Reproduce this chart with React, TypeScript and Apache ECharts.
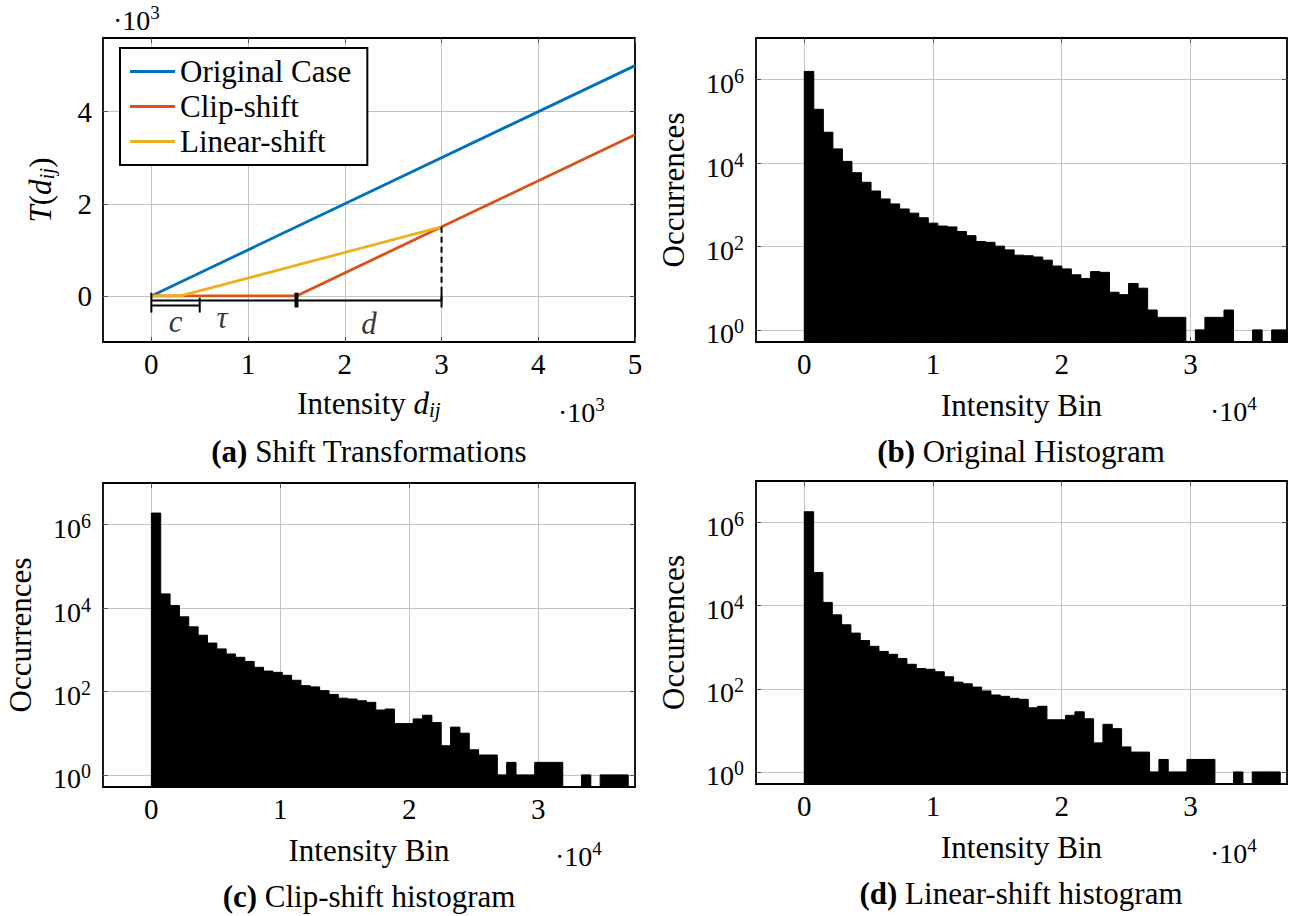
import React, { useEffect, useRef } from 'react';
import * as echarts from 'echarts';

const FONT = "'Liberation Serif', 'Times New Roman', serif";

// ---------- Panel (a): shift transformations ----------
const A_X_TICKS = [0, 1000, 2000, 3000, 4000, 5000];
const A_Y_TICKS = [0, 2000, 4000];
const ORIGINAL_CASE = [[0, 0], [5000, 5000]];
const CLIP_SHIFT = [[0, 0], [1500, 0], [5000, 3500]];
const LINEAR_SHIFT = [[0, 0], [300, 0], [3000, 1500]];
const C_END = 500;
const TAU_END = 1500;
const D_END = 3000;
const LEGEND_NAMES = ['Original Case', 'Clip-shift', 'Linear-shift'];
const LINE_COLORS = ['#0072BD', '#D95319', '#EDB120'];

// ---------- Histograms ----------
const HIST_X_TICKS = [0, 10000, 20000, 30000];
const HIST_Y_EXPONENTS = [0, 2, 4, 6];
const ORIGINAL_BIN_WIDTH = 741;
const SHIFTED_BIN_WIDTH = 725;
const ORIGINAL_COUNTS = [
  1580000, 195000, 55000, 21900, 11000, 5890, 3470, 2140, 1380, 1050,
  794, 631, 490, 363, 309, 295, 229, 182, 132, 126,
  102, 83, 62, 60, 56, 47, 34, 29, 21, 17,
  25, 24, 8, 7, 13, 10, 3, 2, 2, 2,
  0, 1, 2, 2, 3, 0, 0, 1, 0, 1, 1,
];
const CLIP_COUNTS = [
  1900000, 21900, 11500, 6170, 3550, 2240, 1450, 1050, 794, 661,
  525, 380, 309, 288, 245, 186, 138, 129, 105, 85,
  69, 66, 60, 55, 36, 38, 17, 17, 22, 27,
  18, 5, 14, 10, 4, 3, 3, 1, 2, 1,
  1, 2, 2, 2, 0, 0, 1, 0, 1, 1, 1,
];
const LINEAR_COUNTS = [
  1820000, 63100, 12000, 6030, 3470, 2190, 1450, 1050, 794, 676,
  537, 389, 309, 295, 257, 195, 145, 132, 110, 89,
  71, 66, 59, 56, 35, 38, 18, 18, 23, 28,
  19, 5, 14, 11, 4, 3, 3, 1, 2, 1,
  1, 2, 2, 2, 0, 0, 1, 0, 1, 1, 1,
];

const HIST_X_MIN = -3750;
const HIST_X_MAX = 37500;
const HIST_Y_MIN = -0.29;
const HIST_Y_MAX = 7;

const GRIDS = [
  { left: 103, top: 38, width: 532, height: 304 },
  { left: 756, top: 38, width: 531, height: 304 },
  { left: 103, top: 483, width: 532, height: 304 },
  { left: 756, top: 481, width: 531, height: 303 },
];

const AXIS_LINE = { show: true, onZero: false, lineStyle: { color: '#000', width: 1.8 } };
const SPLIT_LINE = { show: true, lineStyle: { color: '#c4c4c4', width: 1 } };
const TICK_STYLE = { color: '#555', width: 1 };

const nameRich: any = {
  n: { fontFamily: FONT, fontSize: 31, color: '#000', lineHeight: 32, verticalAlign: 'middle' },
  i: { fontFamily: FONT, fontSize: 31, fontStyle: 'italic', color: '#000', lineHeight: 32, verticalAlign: 'middle' },
  sub: { fontFamily: FONT, fontSize: 21, fontStyle: 'italic', color: '#000', lineHeight: 32, padding: [14, 0, 0, 0], verticalAlign: 'middle' },
};

const tickRich: any = {
  b: { fontFamily: FONT, fontSize: 28, color: '#000', padding: [8, 0, 0, 0], verticalAlign: 'middle' },
  s: { fontFamily: FONT, fontSize: 20, color: '#000', padding: [0, 0, 7, 0], verticalAlign: 'middle' },
};

const multRich: any = {
  n: { fontFamily: FONT, fontSize: 28, color: '#000', verticalAlign: 'middle' },
  s: { fontFamily: FONT, fontSize: 19, color: '#000', padding: [0, 0, 16, 0], verticalAlign: 'middle' },
};

const capRich: any = {
  bo: { fontFamily: FONT, fontSize: 31, fontWeight: 'bold', color: '#000', verticalAlign: 'middle' },
  n: { fontFamily: FONT, fontSize: 31, color: '#000', verticalAlign: 'middle' },
};

function xAxes(g: number, min: number, max: number, ticks: number[], fmt: (v: number) => string, name: string, nameGap: number) {
  return [
    {
      type: 'value', gridIndex: g, position: 'bottom', min, max,
      axisLine: AXIS_LINE,
      axisTick: { show: true, inside: true, length: 5, customValues: ticks, lineStyle: TICK_STYLE },
      axisLabel: { show: true, customValues: ticks, formatter: fmt, margin: 6, fontFamily: FONT, fontSize: 29, color: '#000', lineHeight: 32 },
      splitLine: SPLIT_LINE,
      name, nameLocation: 'middle', nameGap,
      nameTextStyle: { fontFamily: FONT, fontSize: 31, color: '#000', lineHeight: 32, rich: nameRich },
    },
    {
      type: 'value', gridIndex: g, position: 'top', min, max,
      axisLine: AXIS_LINE,
      axisTick: { show: true, inside: true, length: 5, customValues: ticks, lineStyle: TICK_STYLE },
      axisLabel: { show: false },
      splitLine: { show: false },
    },
  ];
}

function yAxes(g: number, min: number, max: number, ticks: number[], fmt: (v: number) => string, name: string, nameGap: number, margin: number) {
  return [
    {
      type: 'value', gridIndex: g, position: 'left', min, max,
      axisLine: AXIS_LINE,
      axisTick: { show: true, inside: true, length: 5, customValues: ticks, lineStyle: TICK_STYLE },
      axisLabel: { show: true, customValues: ticks, formatter: fmt, margin, fontFamily: FONT, fontSize: 29, color: '#000', rich: tickRich },
      splitLine: SPLIT_LINE,
      name, nameLocation: 'middle', nameGap, nameRotate: 90,
      nameTextStyle: { fontFamily: FONT, fontSize: 31, color: '#000', lineHeight: 32, rich: nameRich },
    },
    {
      type: 'value', gridIndex: g, position: 'right', min, max,
      axisLine: AXIS_LINE,
      axisTick: { show: true, inside: true, length: 5, customValues: ticks, lineStyle: TICK_STYLE },
      axisLabel: { show: false },
      splitLine: { show: false },
    },
  ];
}

function histSeries(g: number, counts: number[], binWidth: number) {
  const data = counts
    .map((c, i) => [i * binWidth, (i + 1) * binWidth, c])
    .filter((d) => d[2] > 0)
    .map((d) => [d[0], d[1], Math.log10(d[2])]);
  return {
    type: 'custom',
    xAxisIndex: 2 * g,
    yAxisIndex: 2 * g,
    silent: true,
    z: 2,
    encode: { x: [0, 1], y: 2 },
    data,
    renderItem: (params: any, api: any) => {
      const cs = params.coordSys;
      const topLeft = api.coord([api.value(0), api.value(2)]);
      const bottomRight = api.coord([api.value(1), HIST_Y_MIN]);
      const x0 = Math.max(topLeft[0], cs.x);
      const x1 = Math.min(bottomRight[0], cs.x + cs.width);
      if (x1 <= x0) return null;
      return {
        type: 'rect',
        shape: { x: x0, y: topLeft[1], width: x1 - x0, height: bottomRight[1] - topLeft[1] },
        style: { fill: '#000', stroke: '#000', lineWidth: 1 },
      };
    },
  };
}

function lineSeg(pts: number[][], width: number, dashed = false) {
  return {
    type: 'line', xAxisIndex: 0, yAxisIndex: 0, data: pts, symbol: 'none', silent: true, z: 4,
    lineStyle: { color: '#000', width, type: dashed ? [6, 4] : 'solid' },
  };
}

function multiplier(x: number, y: number, exp: string) {
  return {
    type: 'text', x, y, silent: true,
    style: { text: `{n|·10}{s|${exp}}`, rich: multRich, fontFamily: FONT, fontSize: 28, fill: '#000', align: 'left', verticalAlign: 'middle' },
  };
}

function caption(x: number, y: number, tag: string, text: string) {
  return {
    type: 'text', x, y, silent: true,
    style: { text: `{bo|(${tag})} {n|${text}}`, rich: capRich, fontFamily: FONT, fontSize: 31, fill: '#000', align: 'center', verticalAlign: 'middle' },
  };
}

function buildOption(): any {
  const thousands = (v: number) => String(v / 1000);
  const tenThousands = (v: number) => String(v / 10000);
  const power = (v: number) => `{b|10}{s|${v}}`;

  const xAxis = [
    ...xAxes(0, -500, 5000, A_X_TICKS, thousands, '{n|Intensity }{i|d}{sub|ij}', 45),
    ...xAxes(1, HIST_X_MIN, HIST_X_MAX, HIST_X_TICKS, tenThousands, 'Intensity Bin', 47),
    ...xAxes(2, HIST_X_MIN, HIST_X_MAX, HIST_X_TICKS, tenThousands, 'Intensity Bin', 47),
    ...xAxes(3, HIST_X_MIN, HIST_X_MAX, HIST_X_TICKS, tenThousands, 'Intensity Bin', 47),
  ];
  const yAxis = [
    ...yAxes(0, -1000, 5600, A_Y_TICKS, thousands, '{i|T}{n|(}{i|d}{sub|ij}{n|)}', 47, 11),
    ...yAxes(1, HIST_Y_MIN, HIST_Y_MAX, HIST_Y_EXPONENTS, power, 'Occurrences', 67, 12),
    ...yAxes(2, HIST_Y_MIN, HIST_Y_MAX, HIST_Y_EXPONENTS, power, 'Occurrences', 67, 12),
    ...yAxes(3, HIST_Y_MIN, HIST_Y_MAX, HIST_Y_EXPONENTS, power, 'Occurrences', 67, 12),
  ];

  const shiftData = [ORIGINAL_CASE, CLIP_SHIFT, LINEAR_SHIFT];
  const mainLines = shiftData.map((d, i) => ({
    type: 'line', name: LEGEND_NAMES[i], xAxisIndex: 0, yAxisIndex: 0, data: d,
    symbol: 'none', silent: true, z: 3, color: LINE_COLORS[i],
    lineStyle: { color: LINE_COLORS[i], width: 2.8 },
  }));

  const linearTopY = LINEAR_SHIFT[LINEAR_SHIFT.length - 1][1];
  const annotations = [
    lineSeg([[0, -100], [D_END, -100]], 2),
    lineSeg([[0, -210], [C_END, -210]], 2),
    lineSeg([[0, 70], [0, -360]], 2),
    lineSeg([[C_END, -40], [C_END, -360]], 2),
    lineSeg([[TAU_END, 70], [TAU_END, -250]], 4),
    lineSeg([[D_END, 70], [D_END, -250]], 2),
    lineSeg([[D_END, linearTopY], [D_END, -100]], 2, true),
  ];

  const annotationLabels = {
    type: 'scatter', xAxisIndex: 0, yAxisIndex: 0, silent: true, z: 5,
    symbolSize: 1, itemStyle: { color: 'rgba(0,0,0,0)' },
    data: [
      { value: [C_END / 2, -560], name: 'c' },
      { value: [730, -470], name: 'τ' },
      { value: [(TAU_END + D_END) / 2, -600], name: 'd' },
    ],
    label: { show: true, position: 'inside', formatter: '{b}', fontFamily: FONT, fontSize: 31, fontStyle: 'italic', color: '#000' },
  };

  const hists = [
    histSeries(1, ORIGINAL_COUNTS, ORIGINAL_BIN_WIDTH),
    histSeries(2, CLIP_COUNTS, SHIFTED_BIN_WIDTH),
    histSeries(3, LINEAR_COUNTS, SHIFTED_BIN_WIDTH),
  ];

  return {
    animation: false,
    backgroundColor: '#fff',
    textStyle: { fontFamily: FONT },
    grid: GRIDS.map((g) => ({ ...g, containLabel: false, show: false })),
    xAxis,
    yAxis,
    legend: {
      data: LEGEND_NAMES,
      left: 120, top: 48, orient: 'vertical',
      icon: 'rect', itemWidth: 45, itemHeight: 3, itemGap: 0,
      padding: [6, 16, 6, 10],
      backgroundColor: '#fff', borderColor: '#000', borderWidth: 2, borderRadius: 0,
      selectedMode: false,
      textStyle: { fontFamily: FONT, fontSize: 31, color: '#000', lineHeight: 35 },
    },
    series: [...mainLines, ...annotations, annotationLabels, ...hists],
    graphic: [
      multiplier(113, 20, '3'),
      multiplier(558, 412, '3'),
      multiplier(1210, 411, '4'),
      multiplier(555, 856, '4'),
      multiplier(1210, 853, '4'),
      caption(369, 451, 'a', 'Shift Transformations'),
      caption(1021, 451, 'b', 'Original Histogram'),
      caption(369, 896, 'c', 'Clip-shift histogram'),
      caption(1021, 893, 'd', 'Linear-shift histogram'),
    ],
  };
}

export default function App() {
  const ref = useRef<HTMLDivElement>(null);
  useEffect(() => {
    if (!ref.current) return;
    const chart = echarts.init(ref.current, null, { renderer: 'svg' });
    chart.setOption(buildOption());
    return () => chart.dispose();
  }, []);
  return (
    <div
      ref={ref}
      style={{ position: 'absolute', left: 0, top: 0, width: 1293, height: 916, background: '#fff' }}
    />
  );
}
